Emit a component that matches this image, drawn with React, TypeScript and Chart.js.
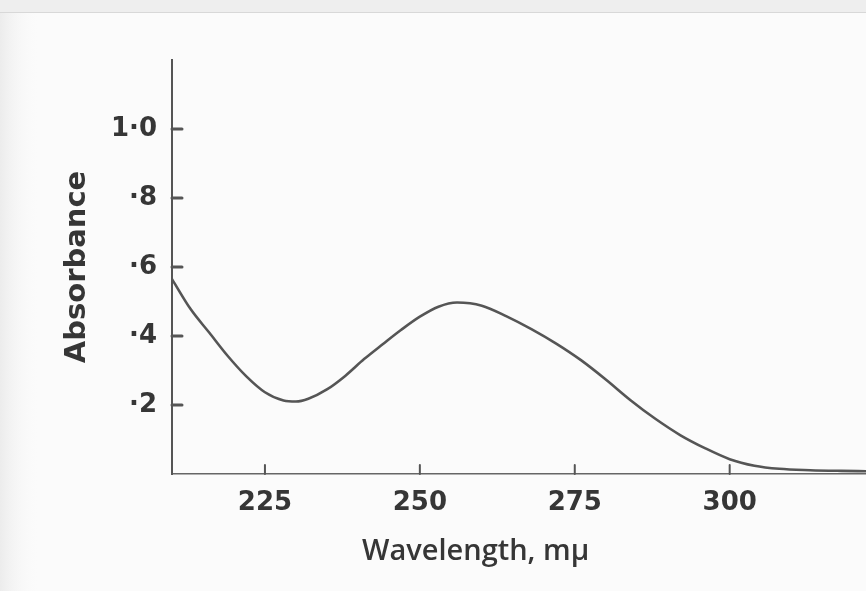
import { useEffect, useRef } from 'react';
import { Chart, registerables } from 'chart.js';

Chart.register(...registerables);

// Absorption spectrum: wavelength (mμ) against absorbance
const wavelengths = [
  210, 213, 216, 219, 222, 225, 228, 230, 232, 235, 238, 241, 244, 247, 250,
  253, 256, 260, 264, 268, 272, 276, 280, 284, 288, 292, 296, 300, 304, 308,
  313, 318, 322,
];
const absorbance = [
  0.565, 0.478, 0.41, 0.342, 0.283, 0.237, 0.213, 0.21, 0.218, 0.245, 0.285,
  0.333, 0.376, 0.418, 0.456, 0.485, 0.497, 0.488, 0.457, 0.42, 0.378, 0.33,
  0.274, 0.214, 0.16, 0.113, 0.075, 0.043, 0.024, 0.015, 0.011, 0.009, 0.008,
];

const xTickValues = [225, 250, 275, 300];
const yTickValues = [0.2, 0.4, 0.6, 0.8, 1.0];
const yTickLabels = ['·2', '·4', '·6', '·8', '1·0'];

const xTitle = 'Wavelength, mμ';
const yTitle = 'Absorbance';

const ink = '#363636';
const lineInk = '#555555';

// paper-like backdrop
const paperPlugin = {
  id: 'paper',
  beforeDraw(chart: any) {
    const { ctx, width, height } = chart;
    ctx.save();
    ctx.fillStyle = '#fbfbfb';
    ctx.fillRect(0, 0, width, height);
    const g = ctx.createLinearGradient(0, 0, 40, 0);
    g.addColorStop(0, '#ececec');
    g.addColorStop(1, 'rgba(251,251,251,0)');
    ctx.fillStyle = g;
    ctx.fillRect(0, 0, 40, height);
    ctx.fillStyle = '#eeeeee';
    ctx.fillRect(0, 0, width, 12);
    ctx.strokeStyle = '#d8d8d8';
    ctx.lineWidth = 1;
    ctx.beginPath();
    ctx.moveTo(0, 12.5);
    ctx.lineTo(width, 12.5);
    ctx.stroke();
    ctx.restore();
  },
};

// short inward tick marks on both axes
const tickMarkPlugin = {
  id: 'tickMarks',
  afterDatasetsDraw(chart: any) {
    const { ctx } = chart;
    const xs = chart.scales.x;
    const ys = chart.scales.y;
    ctx.save();
    ctx.strokeStyle = lineInk;
    ctx.lineCap = 'round';
    ctx.lineWidth = 3;
    for (const v of yTickValues) {
      const y = ys.getPixelForValue(v);
      ctx.beginPath();
      ctx.moveTo(xs.left, y);
      ctx.lineTo(xs.left + 10, y);
      ctx.stroke();
    }
    ctx.lineWidth = 2;
    for (const v of xTickValues) {
      const x = xs.getPixelForValue(v);
      ctx.beginPath();
      ctx.moveTo(x, ys.bottom);
      ctx.lineTo(x, ys.bottom - 9);
      ctx.stroke();
    }
    ctx.restore();
  },
};

// x-axis caption placed under the middle of the plotted range
const xTitlePlugin = {
  id: 'xCaption',
  afterDraw(chart: any) {
    const { ctx } = chart;
    const xs = chart.scales.x;
    ctx.save();
    ctx.fillStyle = ink;
    ctx.font = '600 29px "Open Sans"';
    ctx.textAlign = 'center';
    ctx.textBaseline = 'middle';
    ctx.fillText(xTitle, xs.getPixelForValue(259), 552);
    ctx.restore();
  },
};

export default function App() {
  const ref = useRef<HTMLCanvasElement>(null);

  useEffect(() => {
    document.body.style.margin = '0';
    const chart = new Chart(ref.current!, {
      type: 'line',
      data: {
        datasets: [
          {
            data: wavelengths.map((w, i) => ({ x: w, y: absorbance[i] })),
            borderColor: lineInk,
            borderWidth: 2.6,
            pointRadius: 0,
            cubicInterpolationMode: 'monotone',
            fill: false,
          },
        ],
      },
      options: {
        responsive: false,
        animation: false,
        devicePixelRatio: 1,
        layout: { padding: { top: 60, right: 0, left: 0, bottom: 0 } },
        plugins: {
          legend: { display: false },
          tooltip: { enabled: false },
        },
        scales: {
          x: {
            type: 'linear',
            min: 210,
            max: 322,
            afterBuildTicks: (s: any) => {
              s.ticks = xTickValues.map((v) => ({ value: v }));
            },
            afterFit: (s: any) => {
              s.height = 117;
            },
            grid: { display: false, drawTicks: false },
            border: { color: '#666666', width: 1.6 },
            ticks: {
              padding: 14,
              color: ink,
              font: { family: 'DejaVu Sans', size: 26, weight: 'bold' },
            },
          },
          y: {
            type: 'linear',
            min: 0,
            max: 1.2,
            afterBuildTicks: (s: any) => {
              s.ticks = yTickValues.map((v) => ({ value: v }));
            },
            afterFit: (s: any) => {
              s.width = 172;
            },
            grid: { display: false, drawTicks: false },
            border: { color: lineInk, width: 2 },
            ticks: {
              padding: 15,
              color: ink,
              font: { family: 'DejaVu Sans', size: 26, weight: 'bold' },
              callback: (v: any) => {
                const i = yTickValues.findIndex((t) => Math.abs(t - Number(v)) < 1e-6);
                return i >= 0 ? yTickLabels[i] : '';
              },
            },
            title: {
              display: true,
              text: yTitle,
              color: ink,
              padding: { top: 60, bottom: 0 },
              font: { family: 'DejaVu Sans', size: 29, weight: 'bold' },
            },
          },
        },
      },
      plugins: [paperPlugin, tickMarkPlugin, xTitlePlugin],
    } as any);
    return () => chart.destroy();
  }, []);

  return <canvas ref={ref} width={866} height={591} style={{ display: 'block' }} />;
}
